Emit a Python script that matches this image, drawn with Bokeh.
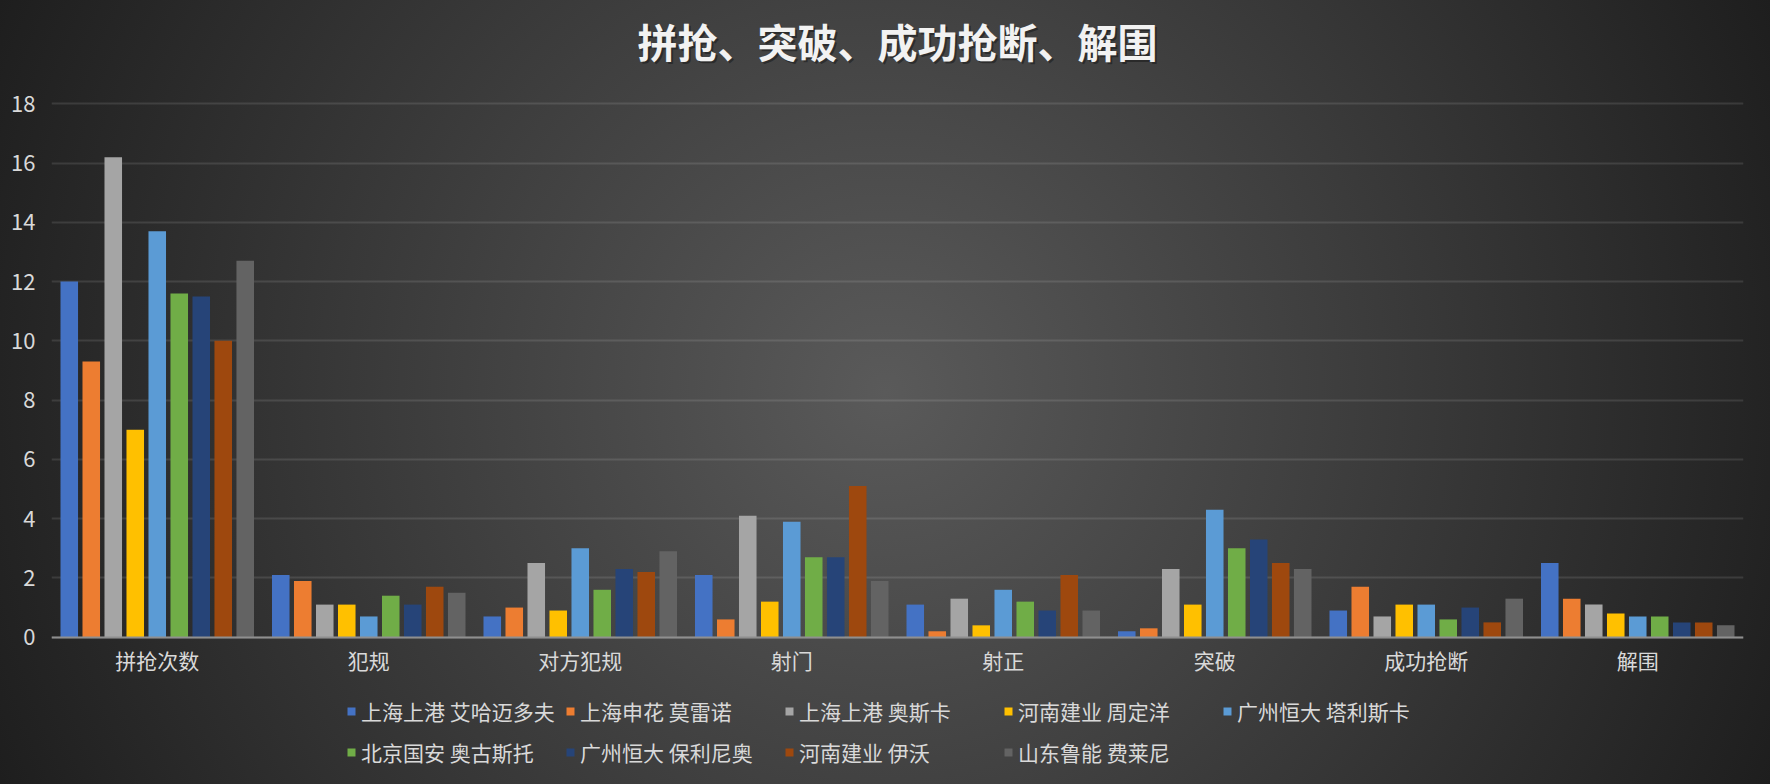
from bokeh.plotting import figure
from bokeh.models import (ColumnDataSource, FactorRange, Range1d, FixedTicker,
                          Legend, LegendItem, Label, GlobalInlineStyleSheet)
from bokeh.transform import dodge
from bokeh.embed import file_html
from bokeh.resources import INLINE

# ---------------- data ----------------
title_text = "拼抢、突破、成功抢断、解围"
categories = ["拼抢次数", "犯规", "对方犯规", "射门", "射正", "突破", "成功抢断", "解围"]
players = ["上海上港 艾哈迈多夫", "上海申花 莫雷诺", "上海上港 奥斯卡", "河南建业 周定洋",
           "广州恒大 塔利斯卡", "北京国安 奥古斯托", "广州恒大 保利尼奥", "河南建业 伊沃",
           "山东鲁能 费莱尼"]

ahmedov = [12.0, 2.1, 0.7, 2.1, 1.1, 0.2, 0.9, 2.5]
moreno = [9.3, 1.9, 1.0, 0.6, 0.2, 0.3, 1.7, 1.3]
oscar = [16.2, 1.1, 2.5, 4.1, 1.3, 2.3, 0.7, 1.1]
zhou = [7.0, 1.1, 0.9, 1.2, 0.4, 1.1, 1.1, 0.8]
talisca = [13.7, 0.7, 3.0, 3.9, 1.6, 4.3, 1.1, 0.7]
augusto = [11.6, 1.4, 1.6, 2.7, 1.2, 3.0, 0.6, 0.7]
paulinho = [11.5, 1.1, 2.3, 2.7, 0.9, 3.3, 1.0, 0.5]
ivo = [10.0, 1.7, 2.2, 5.1, 2.1, 2.5, 0.5, 0.5]
fellaini = [12.7, 1.5, 2.9, 1.9, 0.9, 2.3, 1.3, 0.4]

y_ticks = [0, 2, 4, 6, 8, 10, 12, 14, 16, 18]

series = [ahmedov, moreno, oscar, zhou, talisca, augusto, paulinho, ivo, fellaini]
colors = ["#4472C4", "#ED7D31", "#A5A5A5", "#FFC000", "#5B9BD5",
          "#70AD47", "#264478", "#9E480E", "#636363"]

FONT = "Noto Sans CJK SC"

data = {"cat": categories}
keys = []
for i, s in enumerate(series):
    k = f"s{i}"
    keys.append(k)
    data[k] = s
source = ColumnDataSource(data)

# ---------------- layout constants (pixels) ----------------
W, H = 1770, 784
ZERO_PX = 636.7          # y pixel of value 0
TOP_PX = 103.3           # y pixel of value 18
PX_PER_UNIT = (ZERO_PX - TOP_PX) / y_ticks[-1]
# the frame covers the whole canvas height; the value scale is kept
y_lo = -(H - ZERO_PX) / PX_PER_UNIT
y_hi = ZERO_PX / PX_PER_UNIT

p = figure(
    width=W, height=H,
    x_range=FactorRange(*categories, range_padding=0),
    y_range=Range1d(y_lo, y_hi),
    output_backend="svg", toolbar_location=None, tools="",
    min_border_left=51, min_border_right=27, min_border_top=0, min_border_bottom=0,
)

bg = GlobalInlineStyleSheet(css="""
html { min-height: 100%;
  background: radial-gradient(circle farthest-corner at 50% 50%, #5a5a5a 0%, #1e1e1e 100%); }
body { background: transparent; }
""")
p.stylesheets = [bg]
p.background_fill_alpha = 0
p.border_fill_alpha = 0
p.outline_line_color = None

step = 0.104
bw = 0.083
renderers = []
for i, k in enumerate(keys):
    r = p.vbar(x=dodge("cat", (i - 4) * step, range=p.x_range), top=k, width=bw,
               source=source, fill_color=colors[i], line_color=None)
    renderers.append(r)

# title (with a soft shadow), centred over the frame
title_y = (ZERO_PX - 40) / PX_PER_UNIT
x_mid = len(categories) / 2
p.add_layout(Label(x=x_mid, y=title_y, text=title_text, x_offset=2, y_offset=-2,
                   text_align="center", text_baseline="middle",
                   text_font=FONT, text_font_size="40px", text_font_style="bold",
                   text_color="#000000", text_alpha=0.35))
p.add_layout(Label(x=x_mid, y=title_y, text=title_text,
                   text_align="center", text_baseline="middle",
                   text_font=FONT, text_font_size="40px", text_font_style="bold",
                   text_color="#f2f2f2"))

# axes
p.yaxis.ticker = FixedTicker(ticks=y_ticks)
p.yaxis.axis_line_color = None
p.yaxis.major_tick_line_color = None
p.yaxis.minor_tick_line_color = None
p.yaxis.major_label_text_font = FONT
p.yaxis.major_label_text_font_size = "22px"
p.yaxis.major_label_text_color = "#d9d9d9"
p.yaxis.major_label_standoff = 10

p.xaxis.fixed_location = 0
p.xaxis.axis_line_color = "#8f8f8f"
p.xaxis.axis_line_width = 2
p.xaxis.major_tick_line_color = None
p.xaxis.minor_tick_line_color = None
p.xaxis.major_label_text_font = FONT
p.xaxis.major_label_text_font_size = "21px"
p.xaxis.major_label_text_color = "#d9d9d9"
p.xaxis.major_label_standoff = 2

p.xgrid.visible = False
p.ygrid.grid_line_color = "#ffffff"
p.ygrid.grid_line_alpha = 0.11
p.ygrid.grid_line_width = 2

legend = Legend(
    items=[LegendItem(label=players[i], renderers=[renderers[i]]) for i in range(9)],
    orientation="horizontal", ncols=5,
    location=(295, 12),
    glyph_width=10, glyph_height=10, label_standoff=5,
    label_width=204, label_height=41, spacing=0, padding=0, margin=0,
    label_text_font=FONT, label_text_font_size="21px", label_text_color="#d9d9d9",
    background_fill_alpha=0, border_line_color=None,
)
p.add_layout(legend)

open("out.html", "w").write(file_html(p, INLINE))
